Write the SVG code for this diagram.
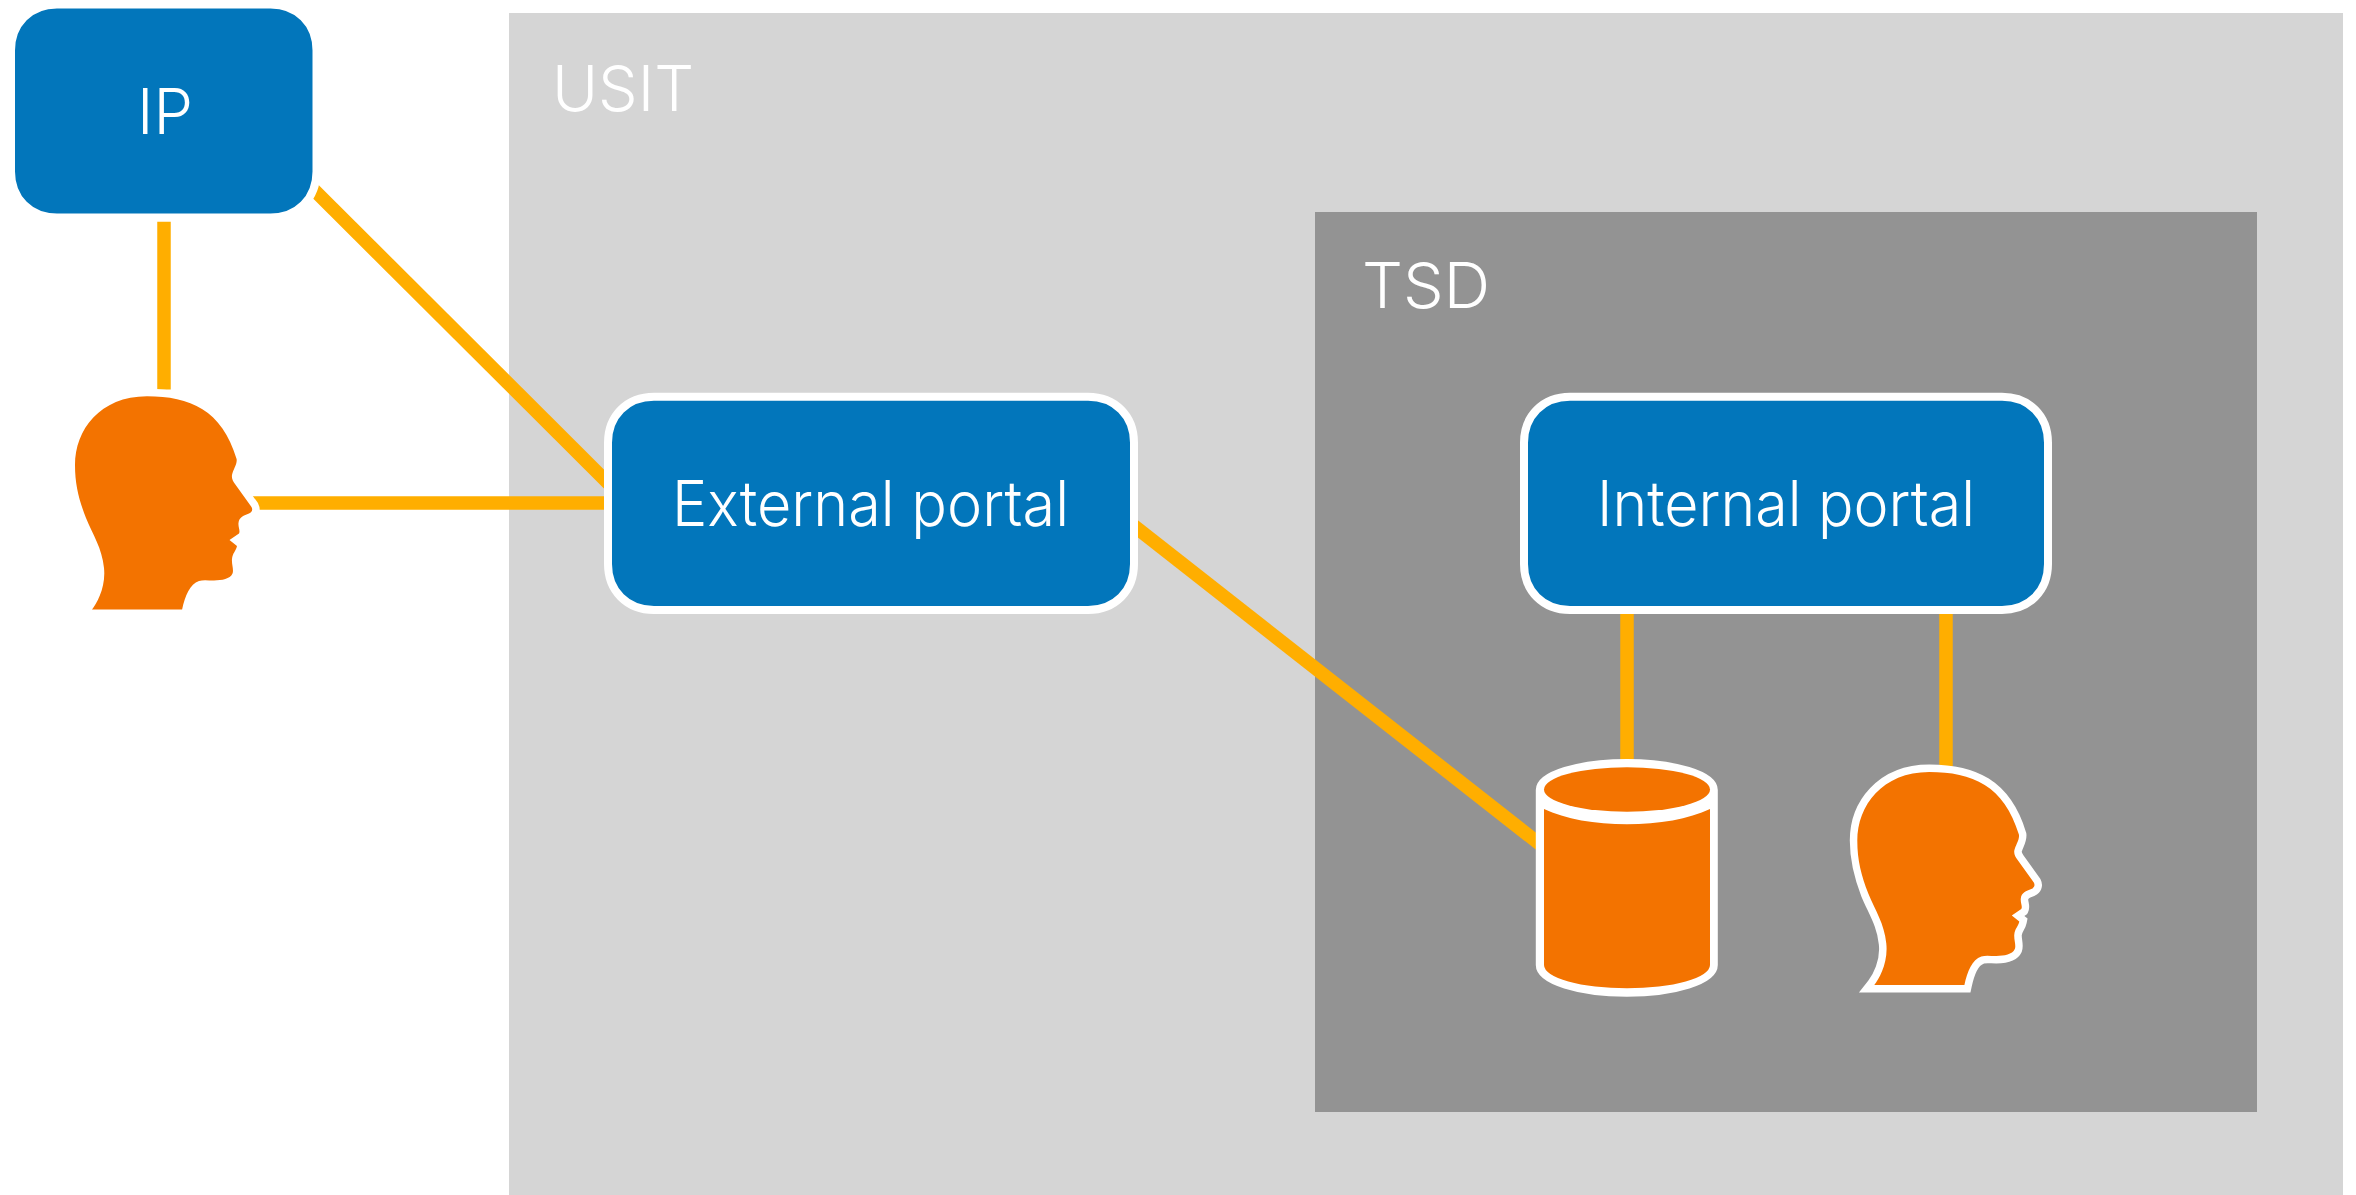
<svg xmlns="http://www.w3.org/2000/svg" width="2356" height="1195" viewBox="0 0 2356 1195">
<style>
text{font-family:"Inter","Liberation Sans",sans-serif;font-weight:300;font-size:63px;fill:#fff}
.box{fill:#0276bb;stroke:#fff;stroke-width:8}
.wire{stroke:#ffae00;stroke-width:13.5;fill:none}
.org{fill:#f37300}
.head{fill:#f37300;stroke:#fff;stroke-width:15;paint-order:stroke fill;stroke-linejoin:miter;stroke-miterlimit:8}
</style>
<defs>
<path id="headShape" d="M92 609.400C97 603 106 587 104 568C102 548 93 535 86 518C79 500 75 485 75 465C75 430 100 396.300 147 396.300C190 396.300 222 410 236.600 459C237.500 464 233 470 232 475C231.500 479 233 481 235 484L251.500 507C253 510 252 512 249 513.500C244 515.500 239 517 238.500 523C238 527 240.500 531 239 533.500L229.500 540L237 546C236 551 232.500 553 232 559C231.500 564 234 570 232.500 573.500C230 579 222 580.400 214 580.400C208 580.400 203 579.500 199 581C190 584 185 596 182.100 609.400Z"/>
</defs>
<g id="usit">
<rect x="509" y="13" width="1834" height="1182" fill="#d5d5d5"/>
<text x="552" y="111" textLength="142" lengthAdjust="spacingAndGlyphs">USIT</text>
</g>
<g id="tsd">
<rect x="1315" y="212" width="942" height="900" fill="#939393"/>
<text x="1362" y="308" textLength="128" lengthAdjust="spacingAndGlyphs">TSD</text>
</g>
<g id="connectors">
<path class="wire" d="M164 221.600V389.400"/>
<path class="wire" d="M290 166L620 495"/>
<path class="wire" d="M235 503H620"/>
<path class="wire" d="M1120 514.900L1560 860"/>
<path class="wire" d="M1627 613V770"/>
<path class="wire" d="M1946 613V770"/>
</g>
<g id="ip">
<path class="box" d="M57 4.500H270.500C297.500 4.500 316.500 23.500 316.500 50.500V171.500C316.500 198.500 297.500 217.500 270.500 217.500H57C30 217.500 11 198.500 11 171.500V50.500C11 23.500 30 4.500 57 4.500Z"/>
<text x="137" y="134" textLength="56" lengthAdjust="spacingAndGlyphs">IP</text>
</g>
<g id="user-left">
<use href="#headShape" class="head"/>
</g>
<g id="external-portal">
<path class="box" d="M654 396.700H1088C1115 396.700 1134 415.700 1134 442.700V564C1134 591 1115 610 1088 610H654C627 610 608 591 608 564V442.700C608 415.700 627 396.700 654 396.700Z"/>
<text x="672" y="526" textLength="397" lengthAdjust="spacingAndGlyphs">External portal</text>
</g>
<g id="internal-portal">
<path class="box" d="M1570 396.700H2002C2029 396.700 2048 415.700 2048 442.700V564C2048 591 2029 610 2002 610H1570C1543 610 1524 591 1524 564V442.700C1524 415.700 1543 396.700 1570 396.700Z"/>
<text x="1597" y="526" textLength="378" lengthAdjust="spacingAndGlyphs">Internal portal</text>
</g>
<g id="database">
<path d="M1540 790A86.800 26.700 0 0 1 1713.600 790V965A86.800 27.500 0 0 1 1540 965Z" fill="#fff" stroke="#fff" stroke-width="8.400"/>
<ellipse class="org" cx="1627" cy="789.500" rx="83" ry="22.200"/>
<path class="org" d="M1544 809C1565 819 1595 824.300 1627 824.300S1689 819 1710 809V965A83 23.300 0 0 1 1544 965Z"/>
</g>
<g id="user-right">
<use href="#headShape" class="head" transform="translate(1782.300 375.600)"/>
</g>
</svg>
